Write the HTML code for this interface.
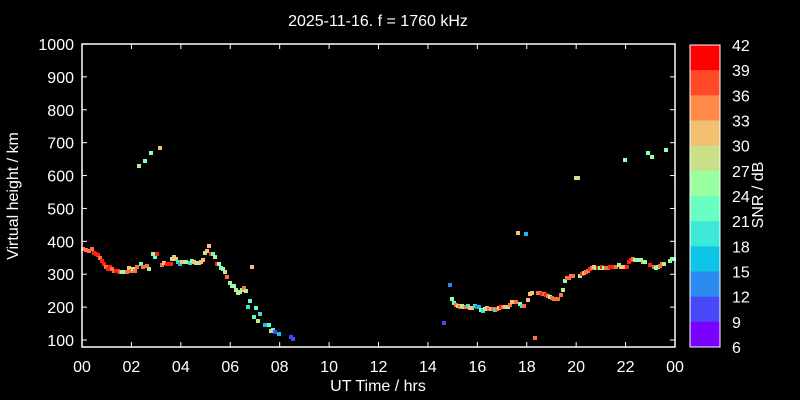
<!DOCTYPE html>
<html><head><meta charset="utf-8"><style>
html,body{margin:0;padding:0;background:#000;width:800px;height:400px;overflow:hidden}
svg text{font-family:"Liberation Sans",Arial,sans-serif;fill:#fff}
</style></head><body>
<svg id="s" width="800" height="400" xmlns="http://www.w3.org/2000/svg">
<rect width="800" height="400" fill="#000"/>
<text x="378" y="26" font-size="16" text-anchor="middle">2025-11-16. f = 1760 kHz</text>
<g id="pts"></g>
<g stroke="#fff" stroke-width="1.5" fill="none">
<rect x="82" y="44" width="593" height="303"/>
</g>
<g id="ticks" stroke="#fff" stroke-width="1"></g>
<g font-size="16" text-anchor="end" id="ylab"></g>
<g font-size="16" text-anchor="middle" id="xlab"></g>
<text x="378" y="391" font-size="16" text-anchor="middle">UT Time / hrs</text>
<text transform="translate(18,196) rotate(-90)" font-size="16" text-anchor="middle">Virtual height / km</text>
<g id="cb"></g>
<rect x="690" y="45" width="30" height="302" fill="none" stroke="#fff" stroke-width="1"/>
<g font-size="16" id="cbl"></g>
<text transform="translate(763,195) rotate(-90)" font-size="16" text-anchor="middle">SNR / dB</text>
</svg>
<script>
var NS="http://www.w3.org/2000/svg";
function el(p,t,a,txt){var e=document.createElementNS(NS,t);for(var k in a)e.setAttribute(k,a[k]);if(txt!=null)e.textContent=txt;document.getElementById(p).appendChild(e);}
for(var h=100;h<=1000;h+=100){var y=340-(h-100)*0.3289;el('ticks','line',{x1:82,x2:87,y1:y,y2:y});el('ticks','line',{x1:670,x2:675,y1:y,y2:y});el('ylab','text',{x:74,y:y+6},String(h));}
for(var i=0;i<=12;i++){var x=82+i*593/12;var v=(i*2)%24;el('ticks','line',{x1:x,x2:x,y1:347,y2:342});el('ticks','line',{x1:x,x2:x,y1:44,y2:49});el('xlab','text',{x:x,y:372},(v<10?'0':'')+v);}
var cols=["#ff0000","#ff4a2a","#ff8a4a","#f2c070","#c8e088","#9affa0","#68ffc0","#3ee8d8","#10c4e8","#2a8cf0","#4848f8","#7a00ff"];
for(var i=0;i<12;i++){el('cb','rect',{x:690,y:45+i*25.17,width:30,height:25.5,fill:cols[i]});}
for(var i=0;i<13;i++){var y=45+i*25.17;el('cbl','text',{x:732,y:y+6},String(42-3*i));if(i>0&&i<12){el('ticks','line',{x1:690,x2:694,y1:y,y2:y});el('ticks','line',{x1:716,x2:720,y1:y,y2:y});}}
var C={R:"#ff2010",O:"#ff7040",Y:"#f8c070",L:"#c0e890",G:"#90ffb0",T:"#60ffc8",C:"#40e0d0",B:"#10c0e8",U:"#3080f0",V:"#4848f8"};
var P="83,249,O;86,250,O;89,251,O;92,249,O;94,253,R;96,254,R;98,255,R;100,258,O;102,261,R;104,264,R;106,267,O;108,269,R;110,267,R;112,269,O;114,271,O;116,271,R;118,271,R;120,272,O;122,272,G;125,272,G;127,272,O;129,268,Y;131,271,O;133,269,L;135,271,O;137,267,O;141,264,T;143,267,O;147,266,O;149,269,L;153,254,G;155,257,T;157,254,R;162,265,O;164,263,Y;167,264,R;169,264,R;171,264,R;172,259,L;174,257,Y;176,259,Y;178,262,C;180,264,B;182,262,Y;184,262,Y;186,262,G;190,263,C;192,261,G;194,262,Y;196,263,L;199,263,L;201,262,Y;203,260,Y;205,253,L;207,251,Y;209,246,Y;211,254,R;213,254,T;215,257,L;217,264,R;219,264,G;221,268,T;223,269,G;225,272,L;227,277,O;230,283,L;232,286,G;234,286,G;236,290,L;238,293,L;240,292,G;242,290,L;244,288,O;246,291,L;252,267,Y;250,301,T;248,307,C;256,308,T;254,317,T;258,321,L;260,314,C;265,325,B;269,325,T;271,331,L;273,330,T;275,332,V;279,334,B;291,337,V;293,339,V;139,166,L;145,161,G;151,153,G;160,148,Y;"+
"450,285,U;444,323,V;452,299,G;454,303,T;456,305,O;458,306,Y;460,307,O;462,306,G;464,307,Y;466,307,O;468,306,C;470,308,Y;472,308,Y;475,306,C;477,307,U;479,307,B;481,310,G;483,311,C;485,309,G;487,308,Y;489,309,O;491,309,Y;493,309,O;495,310,C;497,309,O;499,308,Y;501,307,R;503,307,O;505,307,Y;508,307,L;510,305,O;512,302,Y;516,302,O;520,304,G;522,306,C;524,306,O;528,300,Y;530,294,Y;532,293,Y;538,293,O;540,293,O;542,294,R;544,294,O;546,295,R;548,296,O;550,297,G;552,298,O;554,299,O;556,299,O;558,299,O;561,295,O;563,290,L;565,281,G;567,278,O;569,278,O;571,276,O;573,276,O;580,276,L;582,274,R;584,273,Y;586,272,O;588,271,O;590,269,R;592,268,O;594,267,Y;596,268,G;598,268,R;600,268,G;602,267,R;604,268,G;606,268,O;608,268,O;610,267,R;612,267,R;614,267,R;616,267,O;619,265,G;621,267,Y;623,267,Y;627,267,R;629,262,R;631,260,R;633,259,O;635,260,G;637,260,L;639,260,G;641,260,G;643,262,Y;645,262,G;650,265,R;654,267,O;656,268,G;658,267,G;660,266,O;662,264,O;664,264,L;670,261,G;672,259,G;674,259,G;518,233,Y;526,234,B;535,338,O;576,178,L;578,178,L;625,160,G;648,153,G;652,157,G;666,150,G";
P.split(";").forEach(function(s){var a=s.split(",");el('pts','rect',{x:+a[0]-2,y:+a[1]-2,width:4,height:4,fill:C[a[2]]});});
</script>
</body></html>
